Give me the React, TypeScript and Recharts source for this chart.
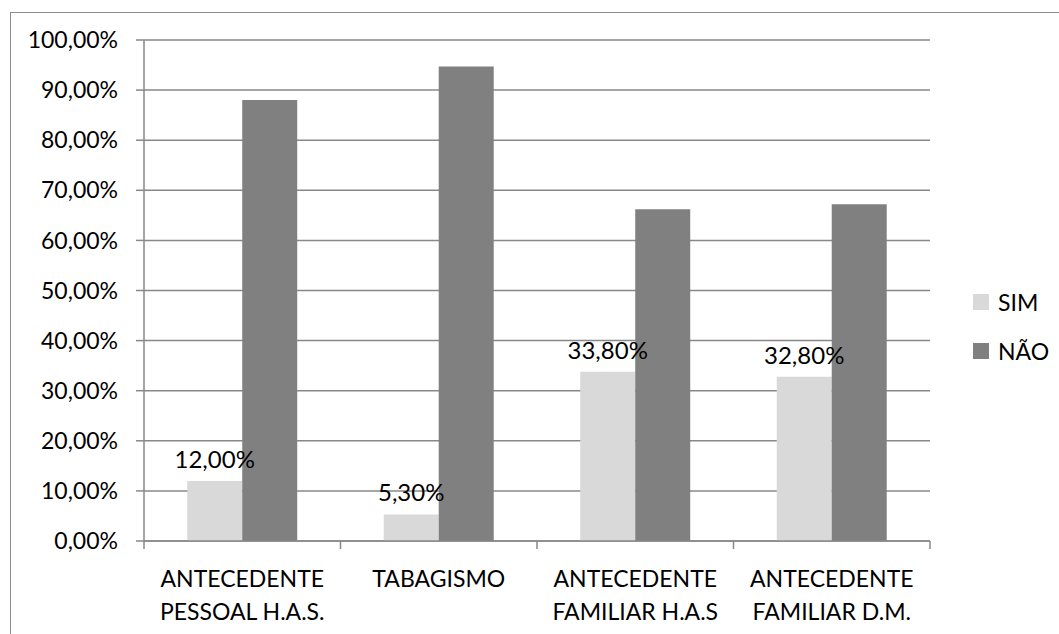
import React from "react";
import { Bar, BarChart, CartesianGrid, LabelList, XAxis, YAxis } from "recharts";

const categories = [
  "ANTECEDENTE\nPESSOAL H.A.S.",
  "TABAGISMO",
  "ANTECEDENTE\nFAMILIAR H.A.S",
  "ANTECEDENTE\nFAMILIAR D.M.",
];
const simValues = [12.0, 5.3, 33.8, 32.8];
const naoValues = [88.0, 94.7, 66.2, 67.2];
const yTicks = [0, 10, 20, 30, 40, 50, 60, 70, 80, 90, 100];

const seriesNames = ["SIM", "NÃO"];
const seriesColors = ["#d9d9d9", "#808080"];

const data = categories.map((name, i) => ({ name, sim: simValues[i], nao: naoValues[i] }));

const FONT = "Lato, 'Open Sans', sans-serif";
const GRID = "#888888";
const TICK = 8;

const pct = (v: number) => v.toFixed(2).replace(".", ",") + "%";

// category label + the small tick marks on the band edges (Excel puts them between categories)
function CategoryTick(props: any) {
  const { x, y, payload, index } = props;
  const lines = String(payload.value).split("\n");
  const half = payload.offset || 0;
  const last = index === categories.length - 1;
  return (
    <g transform={`translate(${x},${y})`}>
      <line x1={-half} x2={-half} y1={-TICK} y2={0} stroke={GRID} strokeWidth={1.5} />
      {last && <line x1={half} x2={half} y1={-TICK} y2={0} stroke={GRID} strokeWidth={1.5} />}
      <text textAnchor="middle" fontFamily={FONT} fontSize={23} fill="#000">
        {lines.map((l, i) => (
          <tspan key={i} x={0} y={38 + i * 33}>
            {l}
          </tspan>
        ))}
      </text>
    </g>
  );
}

export default function App() {
  return (
    <div style={{ position: "absolute", left: 0, top: 0, width: 1059, height: 634, overflow: "hidden", background: "#fff" }}>
      <div
        style={{
          position: "absolute",
          left: 10,
          top: 12,
          width: 1200,
          height: 800,
          border: "1.5px solid #8c8c8c",
          boxSizing: "border-box",
        }}
      />
      <div style={{ position: "absolute", left: 0, top: 0 }}>
        <BarChart
          width={1059}
          height={634}
          data={data}
          margin={{ top: 40, right: 129, bottom: 0, left: 0 }}
          barCategoryGap="22%"
          barGap={0}
        >
          <CartesianGrid vertical={false} stroke={GRID} strokeWidth={1.5} />
          <XAxis
            dataKey="name"
            interval={0}
            tickLine={false}
            tickSize={TICK}
            tickMargin={0}
            axisLine={{ stroke: GRID, strokeWidth: 1.5 }}
            tick={<CategoryTick />}
            height={93}
          />
          <YAxis
            domain={[0, 100]}
            ticks={yTicks}
            tickFormatter={pct}
            width={144}
            tickSize={TICK}
            tickMargin={18}
            axisLine={{ stroke: GRID, strokeWidth: 1.5 }}
            tickLine={{ stroke: GRID, strokeWidth: 1.5 }}
            tick={{ fill: "#000", fontFamily: FONT, fontSize: 23 }}
          />
          <Bar dataKey="sim" name={seriesNames[0]} fill={seriesColors[0]} isAnimationActive={false}>
            <LabelList
              dataKey="sim"
              position="top"
              offset={13}
              formatter={(v: any) => pct(Number(v))}
              fill="#000"
              fontFamily={FONT}
              fontSize={24}
            />
          </Bar>
          <Bar dataKey="nao" name={seriesNames[1]} fill={seriesColors[1]} isAnimationActive={false} />
        </BarChart>
      </div>
      <div style={{ position: "absolute", left: 973, top: 285, fontFamily: FONT, fontSize: 23, color: "#000" }}>
        {seriesNames.map((n, i) => (
          <div key={n} style={{ display: "flex", alignItems: "center", height: 34, marginBottom: 15 }}>
            <div style={{ width: 16, height: 16, background: seriesColors[i], marginRight: 9 }} />
            <span>{n}</span>
          </div>
        ))}
      </div>
    </div>
  );
}
